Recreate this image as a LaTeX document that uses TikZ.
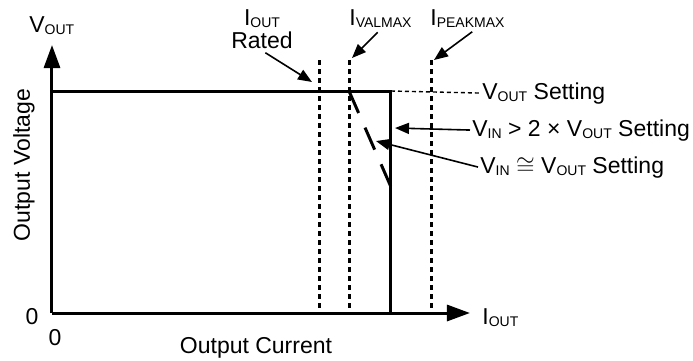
\documentclass[tikz,border=0pt]{standalone}
\usepackage{fontspec}
\setmainfont{Liberation Sans}
\usetikzlibrary{arrows.meta}
\newcommand{\lsub}[1]{\raisebox{-1pt}{\fontsize{7}{8}\selectfont #1}}

\begin{document}
\begin{tikzpicture}[x=0.5pt, y=-0.5pt,
    every node/.style={font=\fontsize{11.5}{13.8}\selectfont, inner sep=1pt},
    axis/.style={line width=1.5pt, -{Triangle[length=11.5pt, width=8pt]}},
    curve/.style={line width=1.5pt},
    limit/.style={line width=1.5pt, dash pattern=on 2.5pt off 2pt},
    pointer/.style={line width=0.8pt, -{Triangle[length=7pt, width=5.5pt]}}]
      \useasboundingbox (0,0) rectangle (693,360);

      % Axes
      \coordinate (origin) at (52,313);
      \coordinate (ytip) at (52,45);
      \coordinate (xtip) at (470,313);
      \draw[axis] (origin) -- (ytip);
      \draw[axis] (origin) -- (xtip);

      % Output characteristic
      \coordinate (vtop) at (52,91);
      \coordinate (knee) at (391,91);
      \coordinate (drop) at (391,313);
      \draw[curve] (vtop) -- (knee) -- (drop);

      % Fold-back for low input voltage
      \coordinate (foldstart) at (349,91);
      \coordinate (foldend) at (391,187);
      \draw[curve, dash pattern=on 12pt off 8pt] (foldstart) -- (foldend);

      % Current limits
      \foreach \name/\xpos in {rated/320, valmax/350, peakmax/432} {
        \coordinate (\name-top) at (\xpos,60);
        \coordinate (\name-bot) at (\xpos,313);
        \draw[limit] (\name-top) -- (\name-bot);
      }

      % Axis labels
      \node[anchor=base west] (vname) at (27,32) {V\lsub{OUT}};
      \node[anchor=base west] (iname) at (480,324) {I\lsub{OUT}};
      \node[anchor=base] (yzero) at (32,324) {0};
      \node[anchor=base] (xzero) at (55,345) {0};
      \node[anchor=base] (xtitle) at (256,353) {Output Current};
      \node[anchor=base, rotate=90] (ytitle) at (30,165) {Output Voltage};

      % Limit labels
      \node[anchor=base] (ratedi) at (262,25) {I\lsub{OUT}};
      \node[anchor=base] (rated) at (262,48) {Rated};
      \node[anchor=base west] (valmax) at (347,25) {I\lsub{VALMAX}};
      \node[anchor=base west] (peakmax) at (428,25) {I\lsub{PEAKMAX}};
      \coordinate (ratedtip) at (312,82);
      \coordinate (valmaxtip) at (352,58);
      \coordinate (peakmaxtip) at (434,60);
      \draw[pointer, shorten <=2pt] (rated.south) -- (ratedtip);
      \draw[pointer, shorten <=2pt] (valmax.south) -- (valmaxtip);
      \draw[pointer, shorten <=2pt] ([xshift=4pt]peakmax.south) -- (peakmaxtip);

      % Setting labels
      \node[anchor=base west] (vset) at (480,99) {V\lsub{OUT} Setting};
      \node[anchor=base west] (vinhigh) at (470,136) {V\lsub{IN} > 2 × V\lsub{OUT} Setting};
      \node[anchor=base west] (vinlow) at (478,173) {V\lsub{IN} $\cong$ V\lsub{OUT} Setting};
      \draw[line width=0.7pt, dash pattern=on 2pt off 1.5pt] (knee) -- (vset.west);
      \coordinate (hightip) at (395,128);
      \coordinate (lowtip) at (376,141);
      \draw[pointer] (vinhigh.west) -- (hightip);
      \draw[pointer] (vinlow.west) -- (lowtip);

    \end{tikzpicture}
\end{document}
